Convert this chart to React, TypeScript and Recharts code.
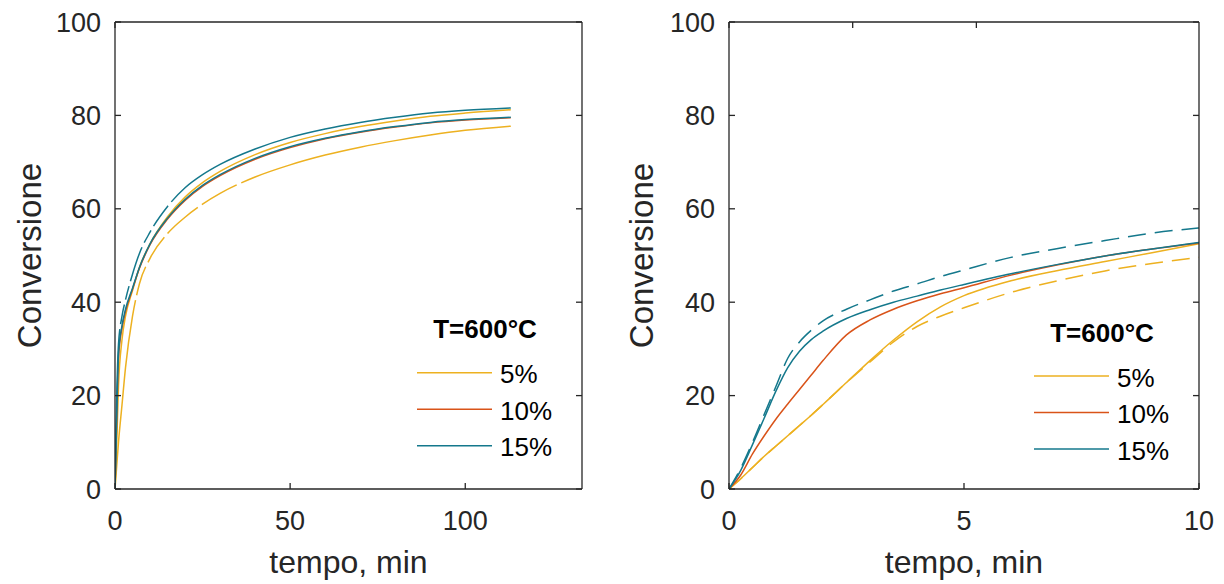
import React from "react";
import { LineChart, Line, XAxis, YAxis, Legend } from "recharts";

// left panel: long run, minutes
const leftTime = [0, 0.5, 1, 2, 3, 5, 7, 10, 15, 20, 25, 30, 40, 50, 60, 70, 80, 90, 100, 113];
const left5 = [0, 10, 22, 32, 37, 42.5, 47.5, 52.5, 58.3, 62.5, 65.6, 68, 71.6, 74.2, 76.1, 77.6, 78.8, 79.8, 80.5, 81.2];
const left5Dash = [0, 5, 10, 18, 26, 37, 44, 49.4, 54.7, 58.2, 61, 63.3, 66.8, 69.4, 71.5, 73.2, 74.6, 75.8, 76.8, 77.7];
const left10 = [0, 15, 28, 34.5, 38, 42.8, 47.3, 52.3, 57.8, 61.8, 64.8, 67.1, 70.6, 73.1, 75, 76.4, 77.5, 78.4, 79, 79.5];
const left15 = [0, 16, 29, 35, 38.5, 43, 47.5, 52.5, 58, 62, 65, 67.3, 70.8, 73.3, 75.1, 76.5, 77.6, 78.5, 79.1, 79.6];
const left15Dash = [0, 20, 31, 37, 40.5, 46, 50.5, 55, 60.5, 64.5, 67.3, 69.5, 72.8, 75.3, 77.1, 78.5, 79.6, 80.5, 81.1, 81.6];

// right panel: first 10 minutes
const rightTime = [0, 0.25, 0.5, 0.75, 1, 1.25, 1.5, 1.75, 2, 2.5, 3, 3.5, 4, 4.5, 5, 6, 7, 8, 9, 10];
const right5 = [0, 2.2, 4.6, 7, 9.2, 11.4, 13.6, 15.8, 18.1, 22.8, 27.5, 31.9, 35.8, 39, 41.4, 44.6, 46.8, 48.7, 50.6, 52.5];
const right5Dash = [0, 2.2, 4.6, 7, 9.2, 11.4, 13.6, 15.8, 18.1, 22.8, 27.2, 31.5, 34.8, 37, 38.8, 42.1, 44.6, 46.7, 48.3, 49.6];
const right10 = [0, 3, 7.5, 11.4, 15, 18.2, 21.3, 24.4, 27.5, 33, 36.2, 38.5, 40.3, 41.8, 43.1, 45.8, 48, 49.9, 51.4, 52.7];
const right15 = [0, 4, 9.5, 15.2, 21, 26, 29.5, 32, 33.8, 36.5, 38.4, 40, 41.3, 42.6, 43.8, 46.1, 48.1, 49.9, 51.4, 52.8];
const right15Dash = [0, 4.5, 10, 16, 22, 28, 31.5, 34, 36, 38.5, 40.5, 42.4, 43.9, 45.5, 46.9, 49.6, 51.5, 53.2, 54.8, 55.9];

const yTicks = [0, 20, 40, 60, 80, 100];
const leftXTicks = [0, 50, 100];
const rightXTicks = [0, 5, 10];
const legendTitle = "T=600°C";
const legendLabels = ["5%", "10%", "15%"];

const C5 = "#EDB120";
const C10 = "#D95319";
const C15 = "#14788C";
const legendColors = [C5, C10, C15];
const AX = "#262626";
const FONT = "'Liberation Sans', Arial, Helvetica, sans-serif";

const leftData = leftTime.map((t, i) => ({
  t,
  s5: left5[i],
  d5: left5Dash[i],
  s10: left10[i],
  s15: left15[i],
  d15: left15Dash[i],
}));

const rightData = rightTime.map((t, i) => ({
  t,
  s5: right5[i],
  d5: right5Dash[i],
  s10: right10[i],
  s15: right15[i],
  d15: right15Dash[i],
}));

const tickStyle = { fontSize: 27, fill: AX, fontFamily: FONT };

const makeLegend = (lineX: number, titleY: number, firstY: number) => () => (
  <svg width={200} height={170} style={{ overflow: "visible" }}>
    <text x={lineX + 68} y={titleY} textAnchor="middle" fontSize={26} fontWeight="bold" fontFamily={FONT} fill="#000">
      {legendTitle}
    </text>
    {legendLabels.map((lab, i) => (
      <g key={lab}>
        <line x1={lineX} x2={lineX + 75} y1={firstY + i * 36.5} y2={firstY + i * 36.5} stroke={legendColors[i]} strokeWidth={1.5} />
        <text x={lineX + 83} y={firstY + i * 36.5 + 10.5} fontSize={26} fontFamily={FONT} fill="#000">
          {lab}
        </text>
      </g>
    ))}
  </svg>
);

const XTitle = (props: any) => {
  const vb = props.viewBox || { x: 0, y: 0, width: 0 };
  return (
    <text x={vb.x + vb.width / 2} y={vb.y + 84} textAnchor="middle" fontSize={32} fontFamily={FONT} fill={AX}>
      tempo, min
    </text>
  );
};

const YTitle = (props: any) => {
  const vb = props.viewBox || { x: 0, y: 0, height: 0 };
  const cx = vb.x + 41;
  const cy = vb.y + vb.height / 2;
  return (
    <text x={cx} y={cy} transform={`rotate(-90 ${cx} ${cy})`} textAnchor="middle" fontSize={33} fontFamily={FONT} fill={AX}>
      Conversione
    </text>
  );
};

type PanelProps = {
  data: any[];
  xMax: number;
  xTicks: number[];
  width: number;
  yWidth: number;
  marginRight: number;
  dashLeft?: boolean;
  legend: () => React.ReactElement;
  legendLeft: number;
};

const Panel: React.FC<PanelProps> = ({ data, xMax, xTicks, width, yWidth, marginRight, dashLeft, legend, legendLeft }) => {
  const dash15 = dashLeft ? "160 5 20 5 14 5 36 5 14 5 25 5 3000 0" : "18 9";
  const dash5 = dashLeft ? "190 5 30 5 30 5 40 5 40 5 3000 0" : "18 9";
  const axisLine = { stroke: AX, strokeWidth: 1.3 };
  return (
    <LineChart width={width} height={584} data={data} margin={{ top: 12, right: marginRight, bottom: 0, left: 0 }}>
      <XAxis
        dataKey="t"
        type="number"
        domain={[0, xMax]}
        ticks={xTicks}
        allowDataOverflow
        height={95}
        tickSize={-6}
        tickMargin={28}
        tick={tickStyle}
        axisLine={axisLine}
        tickLine={axisLine}
        label={{ content: XTitle }}
      />
      <XAxis
        xAxisId="top"
        orientation="top"
        type="number"
        domain={[0, xMax]}
        ticks={xTicks}
        allowDataOverflow
        height={10}
        tickSize={-6}
        tickFormatter={() => ""}
        axisLine={axisLine}
        tickLine={axisLine}
      />
      <YAxis
        type="number"
        domain={[0, 100]}
        ticks={yTicks}
        allowDataOverflow
        width={yWidth}
        tickSize={-6}
        tickMargin={20}
        tick={tickStyle}
        axisLine={axisLine}
        tickLine={axisLine}
        label={{ content: YTitle }}
      />
      <YAxis
        yAxisId="right"
        orientation="right"
        type="number"
        domain={[0, 100]}
        ticks={yTicks}
        allowDataOverflow
        width={10}
        tickSize={-6}
        tickFormatter={() => ""}
        axisLine={axisLine}
        tickLine={axisLine}
      />
      <Line type="monotone" dataKey="d5" stroke={C5} strokeWidth={1.5} strokeDasharray={dash5} dot={false} isAnimationActive={false} />
      <Line type="monotone" dataKey="s5" stroke={C5} strokeWidth={1.5} dot={false} isAnimationActive={false} />
      <Line type="monotone" dataKey="s10" stroke={C10} strokeWidth={1.5} dot={false} isAnimationActive={false} />
      <Line type="monotone" dataKey="d15" stroke={C15} strokeWidth={1.5} strokeDasharray={dash15} dot={false} isAnimationActive={false} />
      <Line type="monotone" dataKey="s15" stroke={C15} strokeWidth={1.5} dot={false} isAnimationActive={false} />
      <Legend
        layout="horizontal"
        verticalAlign="middle"
        align="center"
        content={legend}
        wrapperStyle={{ position: "absolute", left: legendLeft, top: 300, width: 200, height: 170 }}
      />
    </LineChart>
  );
};

export default function App() {
  return (
    <div style={{ position: "absolute", left: 0, top: 0, width: 1224, height: 584, background: "#fff", fontFamily: FONT }}>
      <div style={{ position: "absolute", left: 0, top: 0 }}>
        <Panel
          data={leftData}
          xMax={133.33}
          xTicks={leftXTicks}
          width={600}
          yWidth={115}
          marginRight={8}
          dashLeft
          legend={makeLegend(7, 38, 72.7)}
          legendLeft={410}
        />
      </div>
      <div style={{ position: "absolute", left: 612, top: 0 }}>
        <Panel
          data={rightData}
          xMax={10}
          xTicks={rightXTicks}
          width={612}
          yWidth={117}
          marginRight={15}
          legend={makeLegend(9, 41.7, 76)}
          legendLeft={413}
        />
      </div>
    </div>
  );
}
